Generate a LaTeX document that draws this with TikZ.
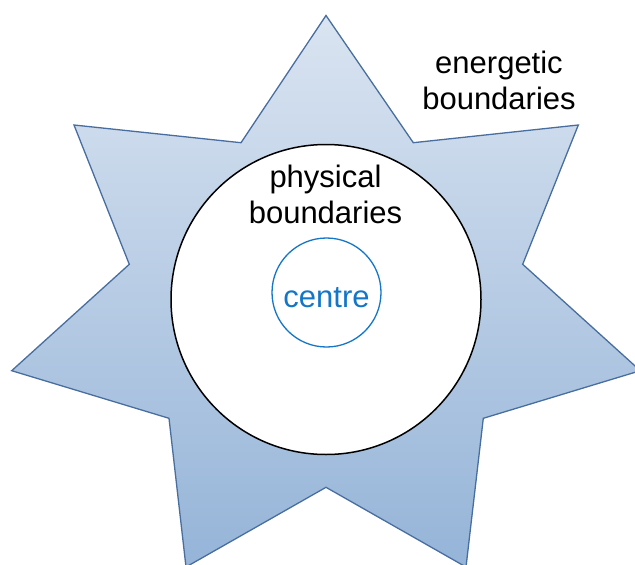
\documentclass[tikz,border=0pt]{standalone}
\usepackage{fontspec}
\setmainfont{Liberation Sans}
\definecolor{starTop}{RGB}{218,228,241}
\definecolor{starBot}{RGB}{149,180,216}
\definecolor{starLine}{RGB}{72,110,160}
\definecolor{centreBlue}{RGB}{20,118,200}
\tikzset{
  lbl/.style={font=\fontsize{31}{36.7}\selectfont, align=center, inner sep=0pt, text=black},
  starshape/.style={draw=starLine, line width=1.3pt, top color=starTop, bottom color=starBot, line join=miter},
  bigcircle/.style={draw=black, line width=1.5pt, fill=white},
  centrecircle/.style={draw=centreBlue, line width=1.3pt, fill=white}
}
\begin{document}
\begin{tikzpicture}[x=1pt,y=-1pt]
\useasboundingbox (0,0) rectangle (635,565);
% star vertices
\coordinate (t)  at (326,15.5);
\coordinate (itr) at (413.3,142.7);
\coordinate (ur) at (578.3,125);
\coordinate (ir) at (522.7,264.3);
\coordinate (r)  at (640.3,370.7);
\coordinate (ibr) at (483.3,418.3);
\coordinate (br) at (466,567);
\coordinate (ib) at (326,487.3);
\coordinate (bl) at (186,567);
\coordinate (ibl) at (169,418.3);
\coordinate (l)  at (11.7,370.7);
\coordinate (il) at (129.3,264.3);
\coordinate (ul) at (74,125);
\coordinate (itl) at (241,142.7);
\path[starshape] (t) -- (itr) -- (ur) -- (ir) -- (r) -- (ibr) -- (br) -- (ib) -- (bl) -- (ibl) -- (l) -- (il) -- (ul) -- (itl) -- cycle;
\node[bigcircle, circle, minimum size=310pt, inner sep=0pt] (phys) at (326,299.5) {};
\node[centrecircle, circle, minimum size=109pt, inner sep=0pt] (centre) at (326.5,292.5) {};
\node[lbl, anchor=base, text=centreBlue] (centrelbl) at (326.5,307.7) {centre};
\node[lbl] (physlbl) at (325.5,194.5) {physical\\boundaries};
\node[lbl] (energlbl) at (499,80.4) {energetic\\boundaries};
\end{tikzpicture}
\end{document}
